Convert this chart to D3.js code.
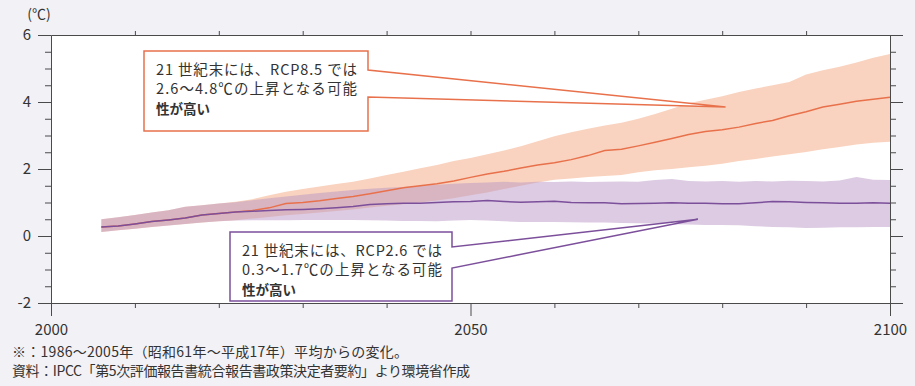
<!DOCTYPE html>
<html><head><meta charset="utf-8">
<script src="https://cdn.jsdelivr.net/npm/d3@7"></script>
<style>
html,body{margin:0;padding:0;background:#f2f1f6;}
svg{display:block;font-family:"Noto Sans CJK JP","Noto Sans",sans-serif;}
</style></head>
<body><svg id="c" width="915" height="386"></svg>
<script>
const years = [2006,2008,2010,2012,2014,2016,2018,2020,2022,2024,2026,2028,2030,2032,2034,2036,2038,2040,2042,2044,2046,2048,2050,2052,2054,2056,2058,2060,2062,2064,2066,2068,2070,2072,2074,2076,2078,2080,2082,2084,2086,2088,2090,2092,2094,2096,2098,2100];
const rcp85Mean = [0.27,0.30,0.36,0.43,0.48,0.54,0.63,0.67,0.72,0.76,0.84,0.97,1.00,1.05,1.12,1.18,1.26,1.35,1.44,1.50,1.56,1.64,1.75,1.85,1.93,2.03,2.12,2.19,2.28,2.40,2.55,2.59,2.69,2.80,2.91,3.03,3.12,3.17,3.25,3.36,3.45,3.59,3.71,3.85,3.93,4.02,4.08,4.14];
const rcp85High = [0.50,0.56,0.63,0.70,0.77,0.87,0.92,0.97,1.02,1.10,1.22,1.32,1.40,1.48,1.55,1.62,1.72,1.82,1.92,2.02,2.12,2.24,2.33,2.44,2.55,2.68,2.83,2.98,3.10,3.20,3.30,3.38,3.50,3.64,3.80,3.96,4.07,4.17,4.30,4.40,4.50,4.60,4.82,4.95,5.05,5.18,5.32,5.43];
const rcp85Low = [0.12,0.17,0.22,0.27,0.31,0.36,0.40,0.44,0.47,0.52,0.57,0.62,0.66,0.70,0.75,0.79,0.85,0.90,0.95,1.00,1.06,1.13,1.22,1.30,1.40,1.50,1.60,1.68,1.72,1.76,1.79,1.82,1.90,1.96,2.00,2.05,2.10,2.16,2.24,2.30,2.37,2.44,2.51,2.59,2.66,2.73,2.78,2.81];
const rcp26Mean = [0.27,0.30,0.36,0.43,0.48,0.54,0.63,0.67,0.72,0.74,0.76,0.78,0.79,0.81,0.84,0.88,0.94,0.96,0.98,0.98,1.00,1.02,1.03,1.06,1.03,1.01,1.02,1.04,1.00,0.99,0.99,0.96,0.97,0.98,0.99,0.98,0.98,0.96,0.96,0.99,1.03,1.02,1.00,0.99,0.98,0.98,0.99,0.98];
const rcp26High = [0.50,0.56,0.63,0.70,0.77,0.87,0.92,0.97,1.01,1.07,1.13,1.18,1.23,1.28,1.33,1.37,1.41,1.44,1.46,1.50,1.53,1.56,1.58,1.60,1.62,1.60,1.62,1.61,1.63,1.61,1.62,1.63,1.62,1.67,1.70,1.64,1.63,1.64,1.62,1.64,1.63,1.65,1.64,1.63,1.66,1.76,1.68,1.67];
const rcp26Low = [0.12,0.17,0.22,0.27,0.31,0.36,0.40,0.44,0.46,0.47,0.47,0.47,0.48,0.48,0.48,0.48,0.47,0.46,0.45,0.45,0.44,0.46,0.48,0.46,0.44,0.42,0.42,0.42,0.41,0.40,0.40,0.39,0.38,0.37,0.35,0.34,0.33,0.33,0.32,0.29,0.27,0.26,0.24,0.25,0.26,0.26,0.27,0.27];
const yMajorTicks = [-2,0,2,4,6];
const yMinorTicks = [-1.5,-1,-0.5,0.5,1,1.5,2.5,3,3.5,4.5,5,5.5];
const xMajorTicks = [2000,2050,2100];
const xMinorTicks = [2010,2020,2030,2040,2060,2070,2080,2090];
const unitLabel = "(℃)";
const note85 = ["21 世紀末には、RCP8.5 では","2.6～4.8℃の上昇となる可能","性が高い"];
const note26 = ["21 世紀末には、RCP2.6 では","0.3～1.7℃の上昇となる可能","性が高い"];
const footnotes = ["※：1986～2005年（昭和61年～平成17年）平均からの変化。","資料：IPCC「第5次評価報告書統合報告書政策決定者要約」より環境省作成"];
const pointer85 = {year:2080.4, value:3.85};
const pointer26 = {year:2077.1, value:0.5};

const svg = d3.select("#c");
const x = d3.scaleLinear().domain([2000,2100]).range([51,890]);
const y = d3.scaleLinear().domain([-2,6]).range([303,35]);
const axisColor = "#4a4a4a";
const textColor = "#333";
const c85 = "#e8714c", c26 = "#7c4f9b";

svg.append("rect").attr("x",x(2000)).attr("y",y(6)).attr("width",x(2100)-x(2000)).attr("height",y(-2)-y(6)).attr("fill","#ffffff");

const idx = d3.range(years.length);
const area = (hi,lo)=>d3.area().x(i=>x(years[i])).y0(i=>y(lo[i])).y1(i=>y(hi[i])).curve(d3.curveLinear);
const line = (m)=>d3.line().x(i=>x(years[i])).y(i=>y(m[i]));
svg.append("path").attr("d",area(rcp85High,rcp85Low)(idx)).attr("fill","#f9d3bf");
svg.append("path").attr("d",area(rcp26High,rcp26Low)(idx)).attr("fill","#b997c5").attr("fill-opacity",0.5);
svg.append("path").attr("d",line(rcp85Mean)(idx)).attr("fill","none").attr("stroke",c85).attr("stroke-width",1.5);
svg.append("path").attr("d",line(rcp26Mean)(idx)).attr("fill","none").attr("stroke",c26).attr("stroke-width",1.5);

function styleAxis(g){g.selectAll("path,line").attr("stroke",axisColor).attr("stroke-width",1);g.selectAll("text").attr("fill",textColor).style("font-size","15px").style("font-family",'"Noto Sans CJK JP","Noto Sans",sans-serif');}
// left
svg.append("g").attr("transform",`translate(${x(2000)},0)`).call(d3.axisLeft(y).tickValues(yMinorTicks).tickSize(6).tickSizeOuter(0).tickFormat("")).call(styleAxis);
svg.append("g").attr("transform",`translate(${x(2000)},0)`).call(d3.axisLeft(y).tickValues(yMajorTicks).tickSize(13).tickSizeOuter(0).tickPadding(7).tickFormat(d=>d<0?"-"+Math.abs(d):d)).call(styleAxis);
// right
svg.append("g").attr("transform",`translate(${x(2100)},0)`).call(d3.axisRight(y).tickValues(yMinorTicks).tickSize(6).tickSizeOuter(0).tickFormat("")).call(styleAxis);
svg.append("g").attr("transform",`translate(${x(2100)},0)`).call(d3.axisRight(y).tickValues(yMajorTicks).tickSize(13).tickSizeOuter(0).tickFormat("")).call(styleAxis);
// top
svg.append("g").attr("transform",`translate(0,${y(6)})`).call(d3.axisTop(x).tickValues(xMinorTicks.concat([2050])).tickSize(4).tickSizeOuter(0).tickFormat("")).call(styleAxis);
// bottom
svg.append("g").attr("transform",`translate(0,${y(-2)})`).call(d3.axisBottom(x).tickValues(xMinorTicks).tickSize(5).tickSizeOuter(0).tickFormat("")).call(styleAxis);
svg.append("g").attr("transform",`translate(0,${y(-2)})`).call(d3.axisBottom(x).tickValues(xMajorTicks).tickSize(13).tickSizeOuter(0).tickPadding(8).tickFormat(d3.format("d"))).call(styleAxis);

svg.append("text").attr("x",39).attr("y",19).attr("text-anchor","middle").attr("fill",textColor).style("font-size","14px").text(unitLabel);

function callout(box, tip, gap, lines, color, widths){
  const [x0,y0,x1,y1] = box;
  const [ga,gb] = gap;
  const p = `M${x0},${y0}H${x1}V${ga}L${tip[0]},${tip[1]}L${x1},${gb}V${y1}H${x0}Z`;
  svg.append("path").attr("d",p).attr("fill","#fff").attr("stroke",color).attr("stroke-width",1.5).attr("stroke-linejoin","miter");
  lines.forEach((t,i)=>{
    const tx = svg.append("text").attr("x",x0+12).attr("y",y0+23.5+i*19.5).attr("fill",textColor)
      .style("font-size",i===2?"13.5px":"14.5px").style("font-weight",i===2?"bold":"normal").text(t);
    if(widths[i]) tx.attr("textLength",widths[i]).attr("lengthAdjust","spacing");
  });
}
callout([144,51,368,131],[x(pointer85.year),y(pointer85.value)],[70,97],note85,c85,[201,201,0]);
callout([230,232,452,301],[x(pointer26.year),y(pointer26.value)],[247,268],note26,c26,[200,200,0]);

const footWidths = [396,458];
footnotes.forEach((t,i)=>{
  svg.append("text").attr("x",12).attr("y",357+i*18.5).attr("fill",textColor).style("font-size","14px")
    .attr("textLength",footWidths[i]).attr("lengthAdjust","spacing").text(t);
});
</script></body></html>
